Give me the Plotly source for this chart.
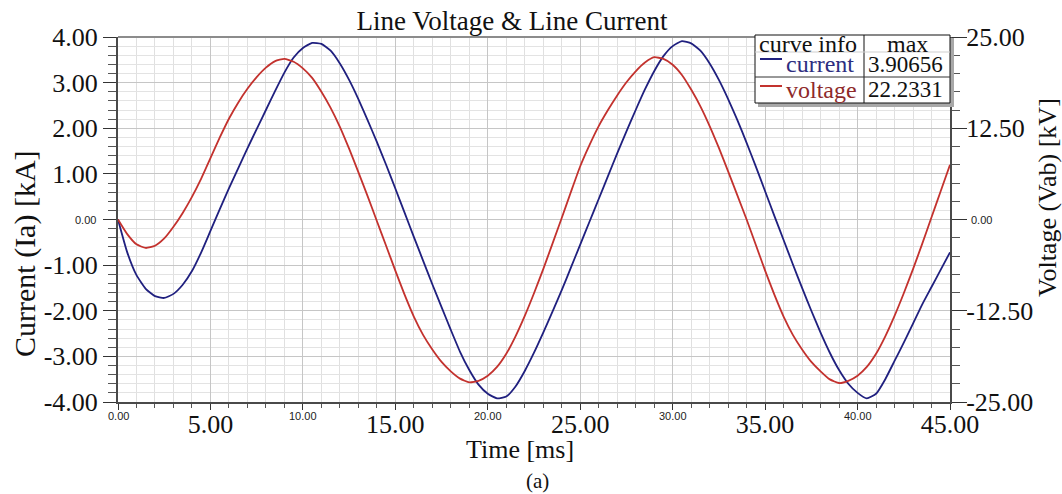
import plotly.graph_objects as go

# ---------------- data ----------------
time_ms = [i * 0.5 for i in range(91)]  # 0.0 ... 45.0 ms sample instants

current_kA = [
    0.00, -0.72, -1.22, -1.52, -1.68, -1.72, -1.63, -1.43, -1.13, -0.72,
    -0.25, 0.22, 0.68, 1.12, 1.56, 1.98, 2.40, 2.82, 3.22, 3.55,
    3.76, 3.87, 3.85, 3.70, 3.42, 3.06, 2.64, 2.18, 1.70, 1.20,
    0.68, 0.15, -0.38, -0.90, -1.42, -1.92, -2.42, -2.90, -3.30, -3.62,
    -3.82, -3.92, -3.88, -3.66, -3.32, -2.92, -2.48, -2.02, -1.55, -1.05,
    -0.55, -0.05, 0.45, 0.95, 1.45, 1.93, 2.40, 2.85, 3.25, 3.58,
    3.80, 3.91, 3.86, 3.70, 3.42, 3.06, 2.64, 2.18, 1.68, 1.16,
    0.62, 0.08, -0.45, -0.98, -1.50, -2.00, -2.48, -2.92, -3.30, -3.60,
    -3.80, -3.92, -3.82, -3.50, -3.10, -2.70, -2.28, -1.86, -1.48, -1.10,
    -0.72,
]

voltage_kV = [
    0.0, -2.0, -3.4, -3.9, -3.6, -2.6, -1.0, 0.9, 3.1, 5.6,
    8.4, 11.2, 13.8, 16.0, 17.9, 19.5, 20.8, 21.7, 22.0, 21.6,
    20.7, 19.4, 17.5, 15.3, 12.7, 9.7, 6.5, 3.2, -0.2, -3.6,
    -7.0, -10.3, -13.3, -15.8, -17.8, -19.5, -20.8, -21.8, -22.3, -22.1,
    -21.4, -20.2, -18.4, -16.0, -13.2, -10.1, -6.8, -3.3, 0.2, 3.8,
    7.3, 10.2, 12.8, 15.0, 17.0, 18.8, 20.3, 21.5, 22.23, 22.0,
    21.2, 19.8, 17.8, 15.5, 12.8, 9.8, 6.6, 3.3, 0.0, -3.5,
    -7.0, -10.3, -13.3, -15.8, -17.8, -19.5, -20.8, -21.9, -22.4, -22.1,
    -21.4, -20.2, -18.4, -16.0, -13.2, -10.1, -6.8, -3.3, 0.3, 3.9,
    7.5,
]

x_ticks = [0, 5, 10, 15, 20, 25, 30, 35, 40, 45]
x_big_ticks = [5, 15, 25, 35, 45]
x_small_ticks = [0, 10, 20, 30, 40]
y_left_ticks = [-4, -3, -2, -1, 0, 1, 2, 3, 4]
y_right_ticks = [-25, -12.5, 0, 12.5, 25]

legend_names = ["current", "voltage"]
legend_max = ["3.90656", "22.2331"]

# ---------------- styling ----------------
BLUE = "#20207f"
RED = "#c3322e"
BLUE_TXT = "#2d2d80"
RED_TXT = "#8e2a2a"
SERIF = "Liberation Serif"
SANS = "Liberation Sans"
INK = "#111111"

W, H = 1062, 494
L, R, T, B = 118, 950, 37, 402  # plot area in pixels


def px(xp):
    return (xp - L) / (R - L)


def py(yp):
    return (B - yp) / (B - T)


fig = go.Figure()
fig.add_trace(go.Scatter(x=time_ms, y=current_kA, mode="lines", name="current",
                         line=dict(color=BLUE, width=1.8, shape="spline", smoothing=0.5),
                         yaxis="y"))
fig.add_trace(go.Scatter(x=time_ms, y=voltage_kV, mode="lines", name="voltage",
                         line=dict(color=RED, width=1.8, shape="spline", smoothing=0.5),
                         yaxis="y2"))

fig.update_layout(
    width=W, height=H,
    margin=dict(l=L, r=W - R, t=T, b=H - B, pad=0),
    paper_bgcolor="white", plot_bgcolor="white",
    showlegend=False,
    font=dict(family=SERIF, color=INK),
    title=dict(text="Line Voltage & Line Current", x=512 / W, xanchor="center",
               y=1 - 21 / H, yanchor="middle", font=dict(size=27, family=SERIF, color=INK)),
    xaxis=dict(
        range=[0, 45], tickmode="array", tickvals=x_ticks,
        ticktext=[f"{v:.2f}" if v in x_big_ticks else "" for v in x_ticks],
        ticks="outside", ticklen=6, tickwidth=1, tickcolor="#333333",
        showline=True, linecolor="#4a4a4a", linewidth=2,
        showgrid=True, gridcolor="#c6c6c6", gridwidth=1, zeroline=False,
        tickfont=dict(size=26, family=SERIF, color=INK),
        ticklabelstandoff=-8,
        minor=dict(tickmode="linear", tick0=0, dtick=1, ticks="outside", ticklen=4,
                   tickcolor="#555555", showgrid=True, gridcolor="#e0e0e0", gridwidth=1),
    ),
    yaxis=dict(
        range=[-4, 4], tickmode="array", tickvals=y_left_ticks,
        ticktext=[f"{v:.2f}" if v != 0 else "" for v in y_left_ticks],
        ticks="outside", ticklen=13, tickwidth=1, tickcolor="#333333",
        showline=True, linecolor="#4a4a4a", linewidth=2,
        showgrid=True, gridcolor="#c6c6c6", gridwidth=1, zeroline=False,
        tickfont=dict(size=26, family=SERIF, color=INK),
        minor=dict(tickmode="linear", tick0=-4, dtick=0.2, ticks="outside", ticklen=8,
                   tickcolor="#555555", showgrid=True, gridcolor="#e3e3e3", gridwidth=1),
    ),
    yaxis2=dict(
        range=[-25, 25], overlaying="y", side="right", tickmode="array",
        tickvals=y_right_ticks,
        ticktext=[f"{v:.2f}" if v != 0 else "" for v in y_right_ticks],
        ticks="outside", ticklen=15, tickwidth=1, tickcolor="#333333",
        showline=True, linecolor="#4a4a4a", linewidth=2,
        showgrid=False, zeroline=False,
        tickfont=dict(size=26, family=SERIF, color=INK),
        ticklabelstandoff=-6,
        minor=dict(tickmode="linear", tick0=-25, dtick=2.5, ticks="outside", ticklen=8,
                   tickcolor="#555555", showgrid=False),
    ),
)


def label(x, y, text, size, color=INK, family=SERIF, xanchor="center", yanchor="middle",
          xref="paper", yref="paper", **kw):
    return dict(x=x, y=y, xref=xref, yref=yref, text=text, showarrow=False,
                xanchor=xanchor, yanchor=yanchor,
                font=dict(size=size, family=family, color=color), **kw)


ann = []
# small tick labels
for v in x_small_ticks:
    ann.append(label(v, 0, f"{v:.2f}", 11, "#222222", SANS, xref="x", yanchor="top", yshift=-6))
ann.append(label(0, 0, "0.00", 11, "#222222", SANS, xanchor="right", yref="y", xshift=-20))
ann.append(label(1, 0, "0.00", 11, "#222222", SANS, xanchor="left", yref="y2", xshift=19))
# axis titles and caption
ann.append(label(px(520), py(450), "Time [ms]", 26))
ann.append(label(px(537), py(481), "(a)", 21))
ann.append(label(px(25), py(254), "Current (Ia) [kA]", 30, textangle=-90))
ann.append(label(px(1047), py(198), "Voltage (Vab) [kV]", 26, textangle=-90))

# legend table text
ann.append(label(px(757), py(44), "curve info", 24, xanchor="left"))
ann.append(label(px(907), py(44), "max", 24))
row_y = [64, 90]
row_col = [BLUE_TXT, RED_TXT]
for name, mx, yy, col in zip(legend_names, legend_max, row_y, row_col):
    ann.append(label(px(784), py(yy), name, 24, col, xanchor="left"))
    ann.append(label(px(905), py(yy), mx, 23))
fig.update_layout(annotations=ann)

shapes = [
    # top border of plot area
    dict(type="line", xref="paper", yref="paper", x0=0, x1=1, y0=1, y1=1,
         line=dict(color="#8c8c8c", width=2), layer="above"),
    # legend table shadow and box
    dict(type="rect", xref="paper", yref="paper", x0=px(758), x1=px(954), y0=py(107), y1=py(38),
         fillcolor="#a8a8a8", line=dict(width=0), layer="above"),
    dict(type="rect", xref="paper", yref="paper", x0=px(755), x1=px(950), y0=py(103), y1=py(35),
         fillcolor="white", line=dict(color=INK, width=1), layer="above"),
    dict(type="line", xref="paper", yref="paper", x0=px(864), x1=px(864), y0=py(103), y1=py(35),
         line=dict(color=INK, width=1), layer="above"),
    dict(type="line", xref="paper", yref="paper", x0=px(755), x1=px(950), y0=py(52), y1=py(52),
         line=dict(color="#cfcfcf", width=1), layer="above"),
    dict(type="line", xref="paper", yref="paper", x0=px(755), x1=px(950), y0=py(77), y1=py(77),
         line=dict(color="#333333", width=1), layer="above"),
    # legend line samples
    dict(type="line", xref="paper", yref="paper", x0=px(760), x1=px(782), y0=py(59), y1=py(59),
         line=dict(color=BLUE, width=2), layer="above"),
    dict(type="line", xref="paper", yref="paper", x0=px(760), x1=px(782), y0=py(86), y1=py(86),
         line=dict(color=RED, width=2), layer="above"),
]
fig.update_layout(shapes=shapes)

fig.write_html("out.html", config={"displayModeBar": False},
               post_script="document.body.style.margin='0';")
